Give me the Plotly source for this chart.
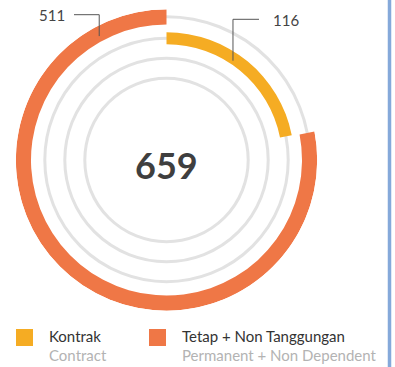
import math
import plotly.graph_objects as go

# --- data -------------------------------------------------------------
total = 659
series_names = ["Kontrak", "Tetap + Non Tanggungan"]
series_names_en = ["Contract", "Permanent + Non Dependent"]
series_values = [116, 511]
series_colors = ["#F5AC23", "#EF7746"]
# value that corresponds to a full turn on each ring
ring_scale_max = [530, 655]

# --- layout helpers ---------------------------------------------------
W, H = 395, 367
CX, CY = 166.5, 160.0          # ring centre in page pixels
R_OUT = 150.7                  # outer radius in page pixels (1 radial unit = 1 px)

ring_base = [115.7, 135.5]     # inner edge of each coloured ring
ring_thick = [12.0, 15.2]
ring_dir = [1, -1]             # 1 = clockwise from 12 o'clock, -1 = counter-clockwise
track_radii = [81.7, 101.7, 121.7, 143.3]


def px(x, y):
    return x / W, 1 - y / H


def polar_px(r, deg_cw):
    a = math.radians(deg_cw)
    return CX + r * math.sin(a), CY - r * math.cos(a)


fig = go.Figure()

for name, val, col, smax, base, th, d in zip(series_names, series_values, series_colors,
                                            ring_scale_max, ring_base, ring_thick, ring_dir):
    sweep = val / smax * 360
    fig.add_trace(go.Barpolar(
        r=[th], base=[base], theta=[d * sweep / 2], width=[sweep],
        marker=dict(color=col, line=dict(width=0)), name=name,
        showlegend=False, hoverinfo="skip",
    ))

x0, x1 = (CX - R_OUT) / W, (CX + R_OUT) / W
y1, y0 = 1 - (CY - R_OUT) / H, 1 - (CY + R_OUT) / H

fig.update_layout(
    width=W, height=H, margin=dict(l=0, r=0, t=0, b=0),
    paper_bgcolor="white", plot_bgcolor="white",
    font=dict(family="Lato", color="#444"),
    polar=dict(
        domain=dict(x=[x0, x1], y=[y0, y1]),
        bgcolor="white",
        barmode="overlay",
        radialaxis=dict(range=[0, R_OUT], tickvals=track_radii, showticklabels=False,
                        ticks="", showline=False, gridcolor="#e2e2e2", gridwidth=3),
        angularaxis=dict(rotation=90, direction="clockwise", showgrid=False,
                         showline=False, showticklabels=False, ticks=""),
    ),
)

# total in the middle
cx, cy = px(CX, 165.5)
fig.add_annotation(x=cx, y=cy, xref="paper", yref="paper", text="<b>%d</b>" % total,
                   showarrow=False, font=dict(size=36, color="#3f3f3f", family="Lato"),
                   xanchor="center", yanchor="middle")

# value call-outs with elbow leader lines
callouts = [
    # (series index, angle along ring (deg, cw), radius, elbow y, horizontal end x)
    (1, -28.5, 141.0, 14.7, 74.0),
    (0, 33.8, 119.5, 19.3, 259.0),
]
for idx, ang, rr, ey, hx in callouts:
    ex, ey2 = polar_px(rr, ang)
    p1 = px(ex, ey2)
    p2 = px(ex, ey)
    p3 = px(hx, ey)
    fig.add_shape(type="path", xref="paper", yref="paper",
                  path="M %f %f L %f %f L %f %f" % (p1[0], p1[1], p2[0], p2[1], p3[0], p3[1]),
                  line=dict(color="#555", width=1))
    if hx < ex:
        tx, anchor = hx - 7, "right"
    else:
        tx, anchor = hx + 12, "left"
    t = px(tx, ey + 0.5)
    fig.add_annotation(x=t[0], y=t[1], xref="paper", yref="paper",
                       text=str(series_values[idx]), showarrow=False,
                       font=dict(size=15, color="#444", family="Lato"),
                       xanchor=anchor, yanchor="middle")

# legend
legend_x = [16.0, 149.0]
for i, lx in enumerate(legend_x):
    a = px(lx, 329)
    b = px(lx + 17, 346)
    fig.add_shape(type="rect", xref="paper", yref="paper", x0=a[0], y0=b[1], x1=b[0], y1=a[1],
                  fillcolor=series_colors[i], line=dict(width=0))
    t1 = px(lx + 31, 335.5)
    fig.add_annotation(x=t1[0], y=t1[1], xref="paper", yref="paper", text=series_names[i],
                       showarrow=False, xanchor="left", yanchor="middle",
                       font=dict(size=15, color="#333333", family="Lato"))
    t2 = px(lx + 31, 354.5)
    fig.add_annotation(x=t2[0], y=t2[1], xref="paper", yref="paper", text=series_names_en[i],
                       showarrow=False, xanchor="left", yanchor="middle",
                       font=dict(size=15, color="#b3b3b3", family="Lato"))

# divider on the right edge
fig.add_shape(type="line", xref="paper", yref="paper", x0=389.5 / W, x1=389.5 / W, y0=0, y1=1,
              line=dict(color="#85a9da", width=3.5))

fig.write_html("out.html")
